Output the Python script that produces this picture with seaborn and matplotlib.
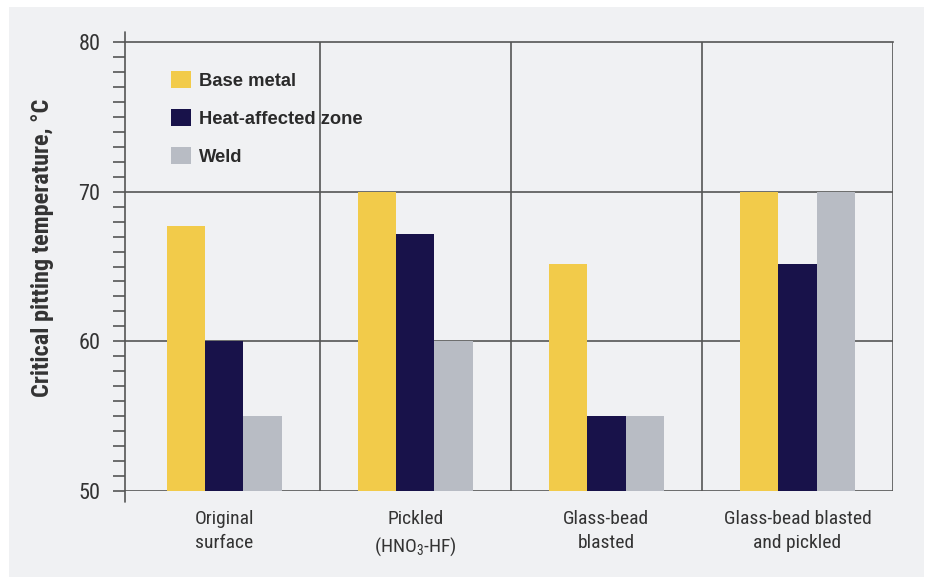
import matplotlib
matplotlib.use("Agg")
import matplotlib.pyplot as plt
import seaborn as sns
import pandas as pd
from matplotlib import font_manager
from matplotlib.patches import Rectangle
from matplotlib.ticker import MultipleLocator

# Critical pitting temperature by surface treatment and weld region
categories = ["Original\nsurface", "Pickled\n(HNO$_3$-HF)", "Glass-bead\nblasted",
              "Glass-bead blasted\nand pickled"]
zones = ["Base metal", "Heat-affected zone", "Weld"]
base_metal = [67.7, 70.0, 65.2, 70.0]
heat_affected = [60.0, 67.2, 55.0, 65.2]
weld = [55.0, 60.0, 55.0, 70.0]
y_ticks = [50, 60, 70, 80]

colors = ["#f2cb4a", "#18124a", "#b8bcc4"]
line_col = "#555555"
panel_col = "#f0f1f3"

sns.set_theme(style="white")


def pick_narrow_font():
    """Return (family, stretch) for the narrowest sans face available."""
    entries = font_manager.fontManager.ttflist
    for want in ["Liberation Sans Narrow", "Roboto Condensed", "Open Sans Condensed",
                 "Noto Sans Condensed", "Arial Narrow"]:
        if any(f.name == want for f in entries):
            return want, "normal"
    for f in entries:
        if f.name in ("DejaVu Sans", "Noto Sans", "Open Sans", "Roboto") and \
                str(f.stretch) in ("condensed", "semi-condensed", "extra-condensed"):
            return f.name, f.stretch
    for f in entries:
        if "Narrow" in f.name or "Condensed" in f.name:
            return f.name, "normal"
    return "Roboto", "normal"


narrow_family, narrow_stretch = pick_narrow_font()
plt.rcParams["font.family"] = [narrow_family, "DejaVu Sans"]
plt.rcParams["font.stretch"] = narrow_stretch
plt.rcParams["mathtext.fontset"] = "custom"
plt.rcParams["mathtext.rm"] = narrow_family
plt.rcParams["mathtext.it"] = narrow_family

df = pd.DataFrame({
    "treatment": categories * 3,
    "zone": [z for z in zones for _ in categories],
    "cpt": base_metal + heat_affected + weld,
})

W, H = 927, 577
fig = plt.figure(figsize=(W / 100, H / 100), dpi=100, facecolor="white")
fig.patches.append(Rectangle((9 / W, 0), (924 - 9) / W, (577 - 7) / H,
                             transform=fig.transFigure, facecolor=panel_col,
                             edgecolor="none", zorder=-10))

ax_l, ax_r, ax_t, ax_b = 125, 893, 42, 491
ax = fig.add_axes([ax_l / W, (H - ax_b) / H, (ax_r - ax_l) / W, (ax_b - ax_t) / H])
ax.set_facecolor(panel_col)

sns.barplot(data=df, x="treatment", y="cpt", hue="zone", hue_order=zones,
            order=categories, palette=colors, width=0.6, gap=0, saturation=1,
            edgecolor="none", linewidth=0, ax=ax, zorder=3)

ax.set_ylim(50, 80)
ax.set_xlim(-0.52, 3.5)
ax.set_yticks(y_ticks)
ax.yaxis.set_minor_locator(MultipleLocator(1))

lw = 1.2
for s in ["left", "bottom", "right"]:
    ax.spines[s].set_visible(False)
ax.spines["top"].set_color(line_col)
ax.spines["top"].set_linewidth(lw)

# horizontal rules at the major ticks, column separators between groups
for yv in y_ticks[:-1]:
    ax.axhline(yv, color=line_col, lw=lw, zorder=2)
for xv in [0.5, 1.5, 2.5, 3.5]:
    ax.axvline(xv, color=line_col, lw=lw, zorder=2)
ax.plot([0, 0], [-0.025, 1.022], transform=ax.transAxes, color=line_col,
        lw=lw, clip_on=False, zorder=4)

ax.tick_params(axis="y", which="both", direction="out", length=8.6, width=lw,
               color=line_col, left=True, labelsize=16, pad=9,
               labelcolor="#333333")
ax.tick_params(axis="x", length=0, pad=14, labelsize=14, labelcolor="#333333")
for t in ax.get_xticklabels():
    t.set_linespacing(1.42)

ax.set_xlabel("")
ax.set_ylabel("Critical pitting temperature, °C", fontsize=17.5,
              fontweight="semibold", color="#333333")
ax.yaxis.set_label_coords(-0.107, 0.541)
ax.yaxis.label.set_verticalalignment("center")

handles, labels = ax.get_legend_handles_labels()
ax.legend(handles, labels, loc="upper left",
          bbox_to_anchor=(171 / W, 1 - 71 / H), bbox_transform=fig.transFigure,
          frameon=False, borderpad=0, borderaxespad=0,
          handlelength=1.07, handleheight=1.07, handletextpad=0.48,
          labelspacing=1.04, prop={"family": "Liberation Sans", "weight": "bold",
                                   "size": 13.2, "stretch": "normal"},
          labelcolor="#2a2a2a")

fig.savefig("out.png", dpi=100, facecolor="white")
